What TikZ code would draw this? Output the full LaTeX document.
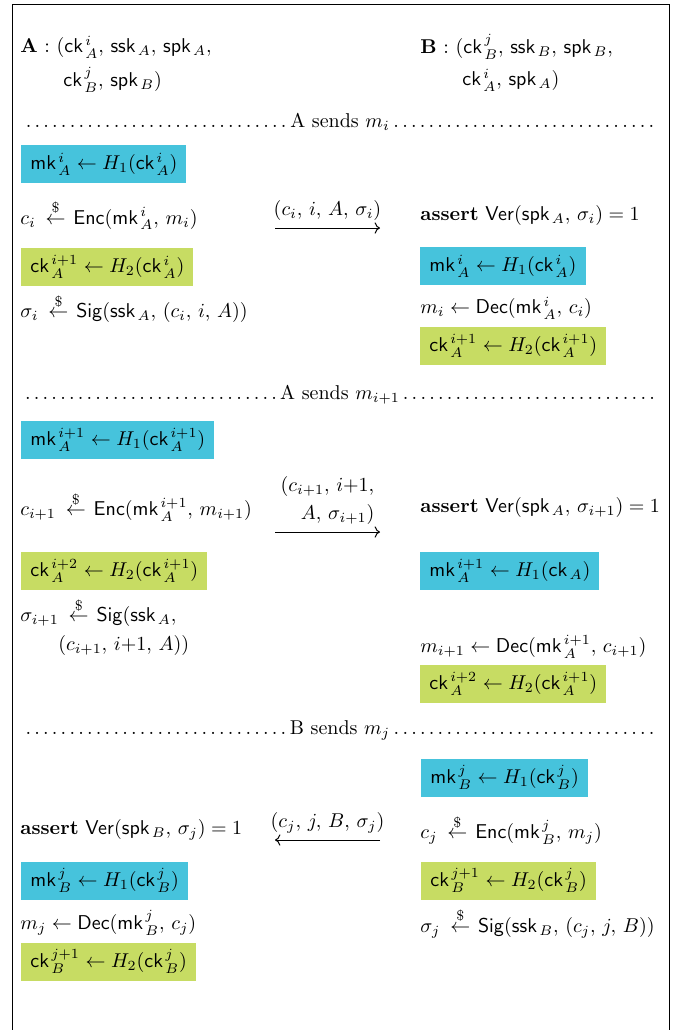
\documentclass[tikz,border=0pt]{standalone}
\usepackage{amsmath,amssymb}
\usepackage{tikz}
\usetikzlibrary{arrows.meta,positioning,calc}
\definecolor{mkblue}{HTML}{46C3DC}
\definecolor{ckgreen}{HTML}{C7DC63}
\newcommand{\sampl}{\mkern4mu\stackrel{\$}{\leftarrow}\mkern2mu}
\newcommand{\alg}[1]{\mathsf{#1}}
\newcommand{\kk}[1]{\mathsf{#1}\mkern2mu}

\begin{document}
\begin{tikzpicture}[x=0.5pt,y=-0.5pt,font=\normalsize,
  txt/.style={anchor=west,inner sep=0pt},
  mkbox/.style={anchor=west,fill=mkblue,inner xsep=4.5pt,inner ysep=4pt,text height=8.5pt,text depth=2.75pt},
  ckbox/.style={mkbox,fill=ckgreen},
  sepline/.style={text width=318pt,inner sep=0pt},
  msg/.style={-To,line width=0.5pt}]
  \useasboundingbox (0,0) rectangle (683,1030);
  \draw[line width=0.5pt] (12,1030) -- (12,4) -- (669,4) -- (669,1030);

  % keys held by each party
  \node[txt] (hdrA)  at (20,47)  {\textbf{A} : $(\kk{ck}^i_A,\, \kk{ssk}_A,\, \kk{spk}_A,$};
  \node[txt] (hdrA2) at (63,80)  {$\kk{ck}^j_B,\, \kk{spk}_B)$};
  \node[txt] (hdrB)  at (420,47) {\textbf{B} : $(\kk{ck}^j_B,\, \kk{ssk}_B,\, \kk{spk}_B,$};
  \node[txt] (hdrB2) at (462,80) {$\kk{ck}^i_A,\, \kk{spk}_A)$};

  % A sends m_i
  \node[sepline] (sepi) at (340,122) {\noindent\dotfill A sends $m_i$\dotfill};
  \node[mkbox] (mkAi)   at (21,164)  {$\kk{mk}^i_A \leftarrow H_1(\kk{ck}^i_A)$};
  \node[txt]   (encAi)  at (20,215)  {$c_i \sampl \alg{Enc}(\kk{mk}^i_A,\, m_i)$};
  \node[ckbox] (ckAi)   at (21,267)  {$\kk{ck}^{i+1}_A \leftarrow H_2(\kk{ck}^i_A)$};
  \node[txt]   (sigAi)  at (20,308)  {$\sigma_i \sampl \alg{Sig}(\kk{ssk}_A,\, (c_i,\, i,\, A))$};
  \node[txt]   (verBi)  at (420,215) {\textbf{assert} $\alg{Ver}(\kk{spk}_A,\, \sigma_i) = 1$};
  \node[mkbox] (mkBi)   at (420,266) {$\kk{mk}^i_A \leftarrow H_1(\kk{ck}^i_A)$};
  \node[txt]   (decBi)  at (420,308) {$m_i \leftarrow \alg{Dec}(\kk{mk}^i_A,\, c_i)$};
  \node[ckbox] (ckBi)   at (420,346) {$\kk{ck}^{i+1}_A \leftarrow H_2(\kk{ck}^{i+1}_A)$};
  \coordinate (mi0) at (275,228);
  \coordinate (mi1) at (380,228);
  \draw[msg] (mi0) -- node[above] (lbli) {$(c_i,\, i,\, A,\, \sigma_i)$} (mi1);

  % A sends m_{i+1}
  \node[sepline] (sepii) at (340,395) {\noindent\dotfill A sends $m_{i+1}$\dotfill};
  \node[mkbox] (mkAii)  at (21,440)  {$\kk{mk}^{i+1}_A \leftarrow H_1(\kk{ck}^{i+1}_A)$};
  \node[txt]   (encAii) at (20,507)  {$c_{i+1} \sampl \alg{Enc}(\kk{mk}^{i+1}_A,\, m_{i+1})$};
  \node[ckbox] (ckAii)  at (21,571)  {$\kk{ck}^{i+2}_A \leftarrow H_2(\kk{ck}^{i+1}_A)$};
  \node[txt]   (sigAii) at (20,612)  {$\sigma_{i+1} \sampl \alg{Sig}(\kk{ssk}_A,$};
  \node[txt]   (sigAii2) at (58,645) {$(c_{i+1},\, i{+}1,\, A))$};
  \node[txt]   (verBii) at (420,507) {\textbf{assert} $\alg{Ver}(\kk{spk}_A,\, \sigma_{i+1}) = 1$};
  \node[mkbox] (mkBii)  at (420,571) {$\kk{mk}^{i+1}_A \leftarrow H_1(\kk{ck}_A)$};
  \node[txt]   (decBii) at (420,647) {$m_{i+1} \leftarrow \alg{Dec}(\kk{mk}^{i+1}_A,\, c_{i+1})$};
  \node[ckbox] (ckBii)  at (420,684) {$\kk{ck}^{i+2}_A \leftarrow H_2(\kk{ck}^{i+1}_A)$};
  \coordinate (mii0) at (275,532);
  \coordinate (mii1) at (380,532);
  \draw[msg] (mii0) -- node[above,align=right] (lblii) {$(c_{i+1},\, i{+}1,$\\[2pt]$A,\, \sigma_{i+1})$} (mii1);

  % B sends m_j
  \node[sepline] (sepj) at (340,730) {\noindent\dotfill B sends $m_j$\dotfill};
  \node[mkbox] (mkBj)   at (421,778) {$\kk{mk}^j_B \leftarrow H_1(\kk{ck}^j_B)$};
  \node[txt]   (encBj)  at (420,830) {$c_j \sampl \alg{Enc}(\kk{mk}^j_B,\, m_j)$};
  \node[ckbox] (ckBj)   at (421,881) {$\kk{ck}^{j+1}_B \leftarrow H_2(\kk{ck}^j_B)$};
  \node[txt]   (sigBj)  at (420,923) {$\sigma_j \sampl \alg{Sig}(\kk{ssk}_B,\, (c_j,\, j,\, B))$};
  \node[txt]   (verAj)  at (20,830)  {\textbf{assert} $\alg{Ver}(\kk{spk}_B,\, \sigma_j) = 1$};
  \node[mkbox] (mkAj)   at (21,881)  {$\kk{mk}^j_B \leftarrow H_1(\kk{ck}^j_B)$};
  \node[txt]   (decAj)  at (20,923)  {$m_j \leftarrow \alg{Dec}(\kk{mk}^j_B,\, c_j)$};
  \node[ckbox] (ckAj)   at (21,962)  {$\kk{ck}^{j+1}_B \leftarrow H_2(\kk{ck}^j_B)$};
  \coordinate (mj0) at (380,840);
  \coordinate (mj1) at (275,840);
  \draw[msg] (mj0) -- node[above] (lblj) {$(c_j,\, j,\, B,\, \sigma_j)$} (mj1);
\end{tikzpicture}
\end{document}
